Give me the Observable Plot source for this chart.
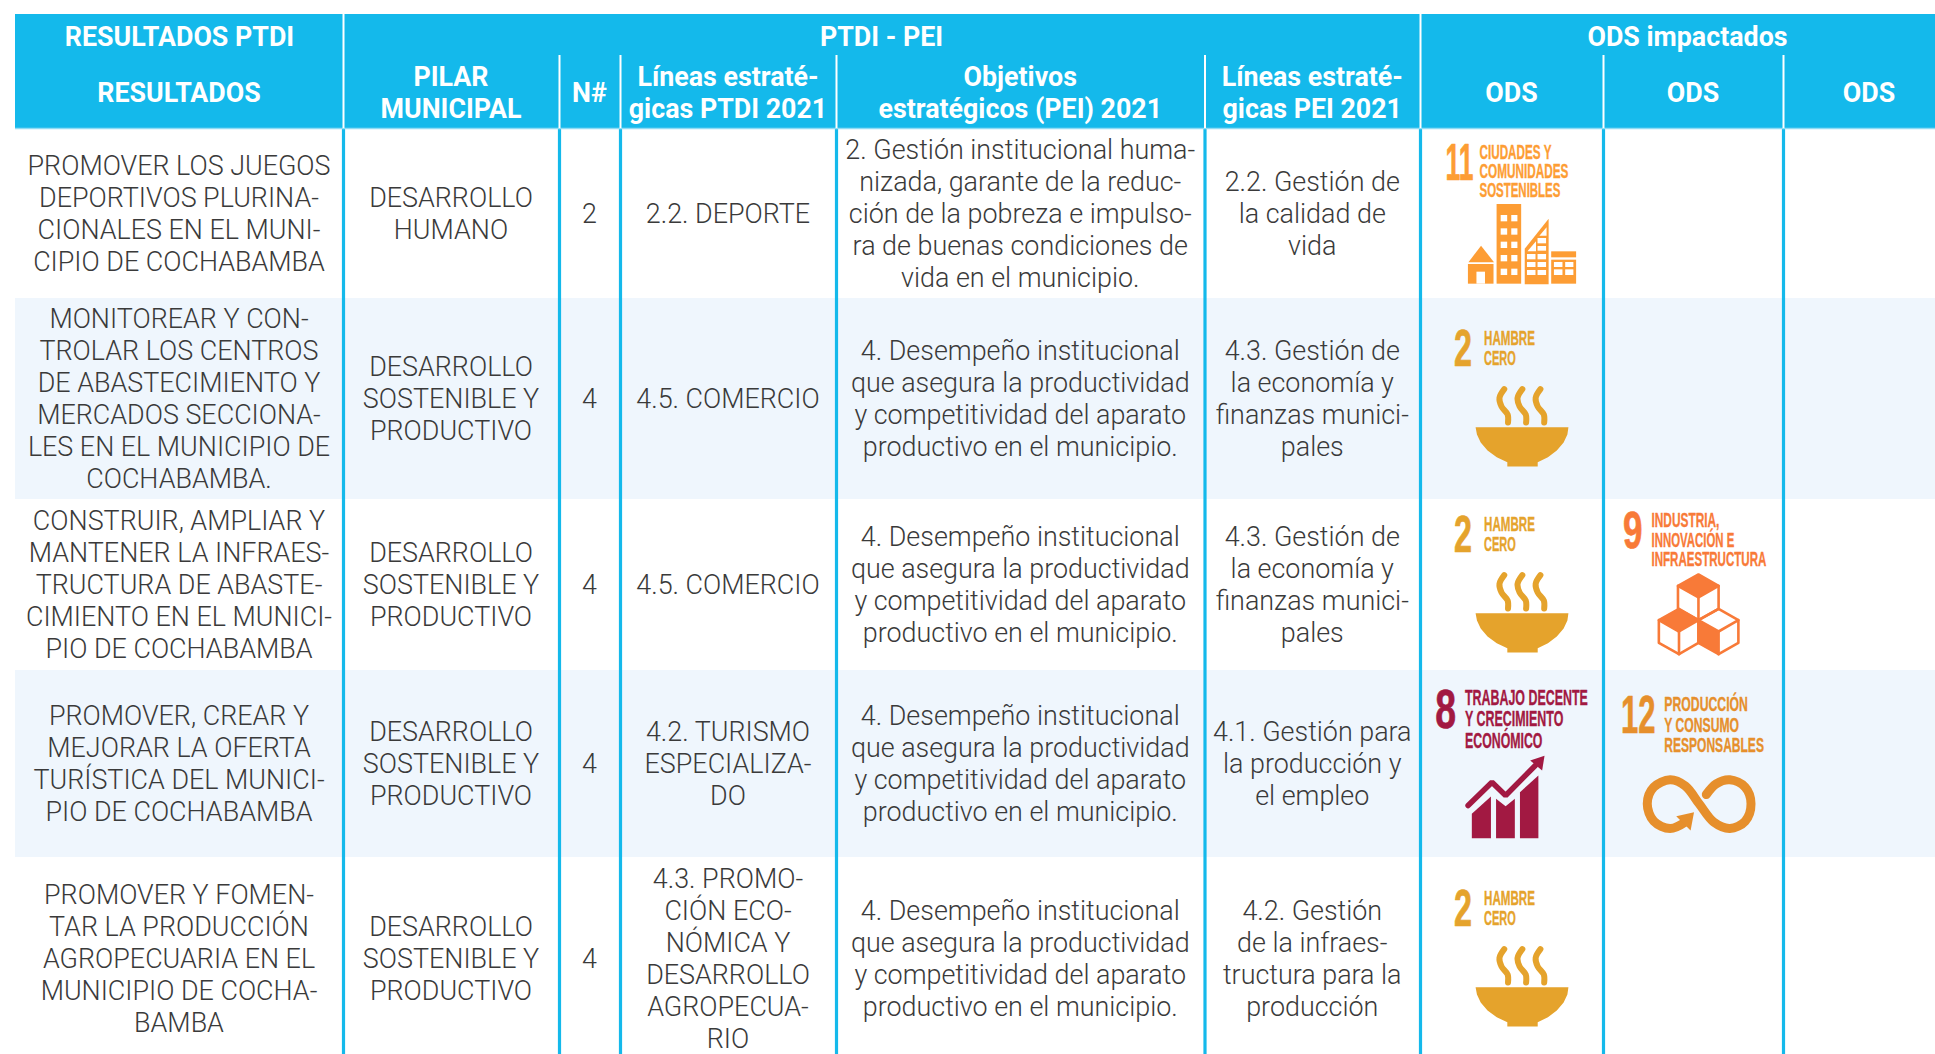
<!DOCTYPE html>
<html lang="es">
<head>
<meta charset="utf-8">
<script src="https://cdn.jsdelivr.net/npm/d3@7"></script>
<script src="https://cdn.jsdelivr.net/npm/@observablehq/plot@0.6"></script>
<style>
html,body{margin:0;padding:0;background:#fff;overflow:hidden;width:1935px;height:1054px}
#chart{width:1935px;height:1054px;overflow:hidden;line-height:0}
svg{display:block;width:1935px!important;height:1054px!important;max-width:none!important}
</style>
</head>
<body>
<div id="chart"></div>
<script>
// ---------- Table contents ----------
const grupos = ["RESULTADOS PTDI", "PTDI - PEI", "ODS impactados"];
const encabezados = ["RESULTADOS", "PILAR\nMUNICIPAL", "N#", "Líneas estraté-\ngicas PTDI 2021",
  "Objetivos\nestratégicos (PEI) 2021", "Líneas estraté-\ngicas PEI 2021", "ODS", "ODS", "ODS"];
const resultados = [
  "PROMOVER LOS JUEGOS\nDEPORTIVOS PLURINA-\nCIONALES EN EL MUNI-\nCIPIO DE COCHABAMBA",
  "MONITOREAR Y CON-\nTROLAR LOS CENTROS\nDE ABASTECIMIENTO Y\nMERCADOS SECCIONA-\nLES EN EL MUNICIPIO DE\nCOCHABAMBA.",
  "CONSTRUIR, AMPLIAR Y\nMANTENER LA INFRAES-\nTRUCTURA DE ABASTE-\nCIMIENTO EN EL MUNICI-\nPIO DE COCHABAMBA",
  "PROMOVER, CREAR Y\nMEJORAR LA OFERTA\nTURÍSTICA DEL MUNICI-\nPIO DE COCHABAMBA",
  "PROMOVER Y FOMEN-\nTAR LA PRODUCCIÓN\nAGROPECUARIA EN EL\nMUNICIPIO DE COCHA-\nBAMBA"
];
const pilares = [
  "DESARROLLO\nHUMANO",
  "DESARROLLO\nSOSTENIBLE Y\nPRODUCTIVO",
  "DESARROLLO\nSOSTENIBLE Y\nPRODUCTIVO",
  "DESARROLLO\nSOSTENIBLE Y\nPRODUCTIVO",
  "DESARROLLO\nSOSTENIBLE Y\nPRODUCTIVO"
];
const numeros = ["2", "4", "4", "4", "4"];
const lineasPTDI = [
  "2.2. DEPORTE",
  "4.5. COMERCIO",
  "4.5. COMERCIO",
  "4.2. TURISMO\nESPECIALIZA-\nDO",
  "4.3. PROMO-\nCIÓN ECO-\nNÓMICA Y\nDESARROLLO\nAGROPECUA-\nRIO"
];
const desempeno = "4. Desempeño institucional\nque asegura la productividad\ny competitividad del aparato\nproductivo en el municipio.";
const objetivos = [
  "2. Gestión institucional huma-\nnizada, garante de la reduc-\nción de la pobreza e impulso-\nra de buenas condiciones de\nvida en el municipio.",
  desempeno, desempeno, desempeno, desempeno
];
const lineasPEI = [
  "2.2. Gestión de\nla calidad de\nvida",
  "4.3. Gestión de\nla economía y\nfinanzas munici-\npales",
  "4.3. Gestión de\nla economía y\nfinanzas munici-\npales",
  "4.1. Gestión para\nla producción y\nel empleo",
  "4.2. Gestión\nde la infraes-\ntructura para la\nproducción"
];

// ---------- Table layout (pixels) ----------
const W = 1935, H = 1054;
const colEdges = [15, 343, 559, 620, 836, 1204.5, 1420, 1603, 1783, 1955];
const rowEdges = [128, 298, 499, 670, 857, 1060];
const headTop = 14, headMid = 55;
const azul = "#14b9eb", tinte = "#eff6fd", tinta = "#3a3a3a";
const mid = (a, i) => (a[i] + a[i + 1]) / 2;

const bodyCols = [resultados, pilares, numeros, lineasPTDI, objetivos, lineasPEI];
const cells = bodyCols.flatMap((col, c) => col.map((text, r) => ({x: mid(colEdges, c) - 0.5, y: mid(rowEdges, r) - 1.2, text})));
const heads = encabezados.map((text, c) => ({x: mid(colEdges, c) - 0.5, y: 91.5, text}));
const groups = [
  {x: 179, y: 35, text: grupos[0]},
  {x: 881, y: 35, text: grupos[1]},
  {x: 1687, y: 35, text: grupos[2]}
];

// ---------- SDG pictograms, outlined in units of the 2.93×3 crop of the right-hand columns ----------
const px = X => 1400 + X / 2.93;
const py = (Y, y0) => y0 + Y / 3;
const poly = (pts, fill, y0) => Plot.line(pts.map(([X, Y]) => ({x: px(X), y: py(Y, y0)})), {x: "x", y: "y", fill, stroke: "none"});
const path = (pts, stroke, y0, w, o = {}) => Plot.line(pts.map(([X, Y]) => ({x: px(X), y: py(Y, y0)})), {x: "x", y: "y", stroke, strokeWidth: w, ...o});
const rects = (list, fill, y0) => Plot.rect(list.map(([a, b, c, d]) => ({x1: px(a), x2: px(c), y1: py(b, y0), y2: py(d, y0)})), {x1: "x1", x2: "x2", y1: "y1", y2: "y2", fill});

// ODS 11
const c11 = "#fd9d34";
const edificios = [[199, 792, 274, 851], [283, 612, 355, 851], [443, 754, 516, 772], [443, 779, 516, 851]];
const ventanas11 = [[224, 815, 249, 851],
  [295, 645, 314, 664], [326, 645, 344, 664], [295, 685, 314, 704], [326, 685, 344, 704],
  [295, 725, 314, 744], [326, 725, 344, 744], [295, 765, 314, 784], [326, 765, 344, 784],
  [295, 806, 314, 825], [326, 806, 344, 825],
  [372, 762, 397, 778], [403, 762, 428, 778], [372, 786, 397, 801], [403, 786, 428, 801],
  [372, 810, 397, 825], [403, 810, 428, 825], [403, 738, 428, 752], [403, 714, 428, 730],
  [451, 786, 476, 801], [484, 786, 508, 801], [451, 808, 476, 825], [484, 808, 508, 825]];
const ods11 = [
  poly([[236, 736], [274, 785], [199, 785]], c11, 0),
  poly([[364, 745], [434, 655], [434, 851], [364, 851]], c11, 0),
  rects(edificios, c11, 0),
  rects(ventanas11, "#fff", 0),
  poly([[428, 680], [428, 706], [407, 706]], "#fff", 0),
  poly([[397, 722], [397, 752], [372, 752]], "#fff", 0)
];

// ODS 2 (bowl and steam)
const c2 = "#e5a32c";
const vapor = [[304, 236], [290, 262], [296, 288], [314, 312], [315, 336]];
const tazon = [[220, 350], [492, 350], [489, 372], [478, 396], [458, 420], [432, 440], [402, 455], [402, 468], [313, 468], [313, 455], [282, 440], [255, 420], [235, 396], [224, 372]];
const ods2 = y0 => [
  ...[0, 53, 106].map(dx => path(vapor.map(([X, Y]) => [X + dx, Y]), c2, y0, 6, {curve: "catmull-rom", strokeLinecap: "round"})),
  poly(tazon, c2, y0)
];

// ODS 9 (cubes)
const c9 = "#f87a38";
const cubo = (tx, ty, lx, rx, cy1, cy2, by) => [
  [[tx, ty], [rx, cy1], [rx, cy2], [tx, by], [lx, cy2], [lx, cy1], [tx, ty]],
  [[lx, cy1], [tx, (ty + by) / 2], [rx, cy1]],
  [[tx, (ty + by) / 2], [tx, by]]
];
const cubos = [
  ...cubo(873, 792, 813, 932, 826, 895, 929),
  ...cubo(816, 895, 757, 873, 929, 997, 1031),
  ...cubo(932, 895, 873, 990, 929, 997, 1031)
];
const y9 = 310;
const ods9 = [
  poly([[873, 792], [932, 826], [873, 860], [813, 826]], c9, y9),
  poly([[816, 895], [873, 929], [816, 963], [757, 929]], c9, y9),
  poly([[873, 929], [932, 963], [932, 1031], [873, 997]], c9, y9),
  ...cubos.map(p => path(p, c9, y9, 2.6))
];

// ODS 8 (rising bars)
const c8 = "#a21942";
const y8 = 670;
const ods8 = [
  poly([[209, 430], [265, 378], [265, 503], [209, 503]], c8, y8),
  poly([[280, 385], [308, 407], [335, 385], [335, 503], [280, 503]], c8, y8),
  poly([[350, 365], [404, 315], [404, 503], [350, 503]], c8, y8),
  path([[198, 405], [268, 335], [308, 375], [395, 285]], c8, y8, 5.5, {strokeLinejoin: "miter"}),
  poly([[422, 256], [380, 270], [415, 300]], c8, y8)
];

// ODS 12 (infinity)
const c12 = "#e68f2c";
const infinito = [[838, 452], [790, 474], [742, 452], [723, 400], [742, 350], [790, 328], [835, 347], [875, 400], [918, 455], [965, 474], [1010, 452], [1027, 400], [1010, 350], [965, 328], [925, 340], [896, 372]];
const ods12 = [
  path(infinito, c12, y8, 9, {curve: "catmull-rom"}),
  poly([[860, 425], [808, 437], [850, 480]], c12, y8)
];

// Condensed pictogram lettering: label, left edge, right edge, baseline, size, colour
const rotulos = [
  ["11", 1445, 1473, 179, 51, c11],
  ["CIUDADES Y", 1479, 1551, 158.7, 19.5, c11],
  ["COMUNIDADES", 1479, 1568, 177.7, 19.5, c11],
  ["SOSTENIBLES", 1479, 1560, 196.7, 19.5, c11],
  ...[0, 186, 560].flatMap(d => [
    ["2", 1453.6, 1471.6, 365 + d, 51, c2],
    ["HAMBRE", 1483.6, 1534.5, 344.4 + d, 20, c2],
    ["CERO", 1483.6, 1515.4, 364.4 + d, 20, c2]
  ]),
  ["9", 1622.5, 1642, 547.7, 51, c9],
  ["INDUSTRIA,", 1651, 1719, 526.7, 19.5, c9],
  ["INNOVACIÓN E", 1651, 1733.8, 546.4, 19.5, c9],
  ["INFRAESTRUCTURA", 1651, 1766, 565.4, 19.5, c9],
  ["8", 1434.8, 1455.6, 727.3, 55, c8],
  ["TRABAJO DECENTE", 1464.5, 1587.4, 704.7, 21.5, c8],
  ["Y CRECIMIENTO", 1464.5, 1563, 725.7, 21.5, c8],
  ["ECONÓMICO", 1464.5, 1542, 747, 21.5, c8],
  ["12", 1620.5, 1655, 732.3, 53, c12],
  ["PRODUCCIÓN", 1663.8, 1747.4, 710.4, 20.5, c12],
  ["Y CONSUMO", 1663.8, 1738.6, 731, 20.5, c12],
  ["RESPONSABLES", 1663.8, 1763.5, 751.7, 20.5, c12]
];

// ---------- Plot ----------
const bodyFont = {fontFamily: "Roboto", fontWeight: 300, fontSize: 26.9, lineHeight: 32 / 26.9, fill: tinta, lineAnchor: "middle"};
const headFont = {fontFamily: "Roboto", fontWeight: 700, fontSize: 26.8, lineHeight: 32 / 26.8, fill: "#fff", lineAnchor: "middle"};

const chart = Plot.plot({
  width: W, height: H,
  margin: 0,
  x: {type: "linear", domain: [0, W], range: [0, W], axis: null},
  y: {type: "linear", domain: [0, H], range: [0, H], axis: null},
  color: {type: "identity"},
  style: {background: "#fff"},
  marks: [
    // stripes and header band
    Plot.rect([1, 3], {x1: colEdges[0], x2: W, y1: r => rowEdges[r], y2: r => rowEdges[r + 1], fill: tinte}),
    Plot.rect([0], {x1: colEdges[0], x2: W, y1: headTop, y2: rowEdges[0], fill: azul}),
    // column rules
    Plot.ruleX(colEdges.slice(1, 9), {y1: rowEdges[0], y2: H, stroke: azul, strokeWidth: 3.2}),
    Plot.ruleY([rowEdges[0]], {x1: colEdges[0], x2: W, stroke: "#8fdcf5", strokeWidth: 1.5}),
    Plot.ruleX([colEdges[1], colEdges[6]], {y1: headTop, y2: rowEdges[0], stroke: "#fff", strokeWidth: 2}),
    Plot.ruleX(colEdges.slice(2, 6).concat(colEdges.slice(7, 9)), {y1: headMid, y2: rowEdges[0], stroke: "#fff", strokeWidth: 2}),
    // text
    Plot.text(groups, {x: "x", y: "y", text: "text", ...headFont}),
    Plot.text(heads, {x: "x", y: "y", text: "text", ...headFont}),
    Plot.text(cells, {x: "x", y: "y", text: "text", ...bodyFont}),
    // pictograms
    ...ods11,
    ...ods2(310), ...ods2(496), ...ods2(870),
    ...ods9,
    ...ods8,
    ...ods12,
    Plot.text(rotulos, {
      x: d => d[1], y: d => d[3], text: d => d[0], fill: d => d[5], stroke: d => d[5], strokeWidth: d => d[0].length < 3 ? 0.7 : 0.35,
      fontSize: d => d[4], fontFamily: "Liberation Sans Narrow, Liberation Sans", fontWeight: 700,
      textAnchor: "start", lineAnchor: "bottom", className: "rotulo"
    })
  ]
});
document.getElementById("chart").append(chart);
// Squeeze the pictogram lettering to its condensed width
d3.select(chart).selectAll(".rotulo text").each(function (_, i) {
  const r = rotulos[i];
  const natural = this.getComputedTextLength();
  const t = this.getAttribute("transform") || "";
  this.setAttribute("transform", `${t} scale(${(r[2] - r[1]) / natural},1)`);
});
</script>
</body>
</html>
